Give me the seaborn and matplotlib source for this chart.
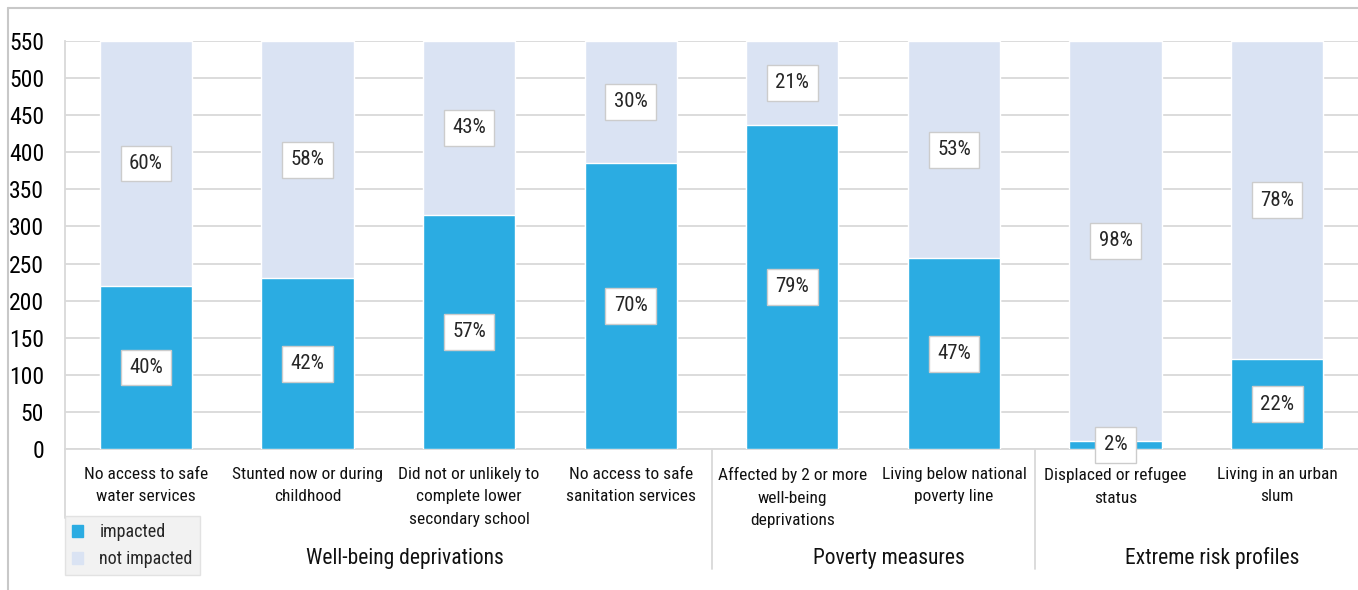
import matplotlib
matplotlib.use('Agg')
import matplotlib.pyplot as plt
from matplotlib.patches import Patch
from matplotlib.lines import Line2D
import matplotlib.transforms as mtransforms
import seaborn as sns
import pandas as pd

# --- data ---
categories = [
    "No access to safe\nwater services",
    "Stunted now or during\nchildhood",
    "Did not or unlikely to\ncomplete lower\nsecondary school",
    "No access to safe\nsanitation services",
    "Affected by 2 or more\nwell-being\ndeprivations",
    "Living below national\npoverty line",
    "Displaced or refugee\nstatus",
    "Living in an urban\nslum",
]
impacted = [220, 230, 316, 386, 437, 257, 11, 121]
total = [550, 550, 550, 550, 550, 550, 550, 550]
pct_impacted = [40, 42, 57, 70, 79, 47, 2, 22]
pct_not_impacted = [60, 58, 43, 30, 21, 53, 98, 78]
groups = ["Well-being deprivations", "Poverty measures", "Extreme risk profiles"]
group_members = [[0, 1, 2, 3], [4, 5], [6, 7]]
y_ticks = [0, 50, 100, 150, 200, 250, 300, 350, 400, 450, 500, 550]

BLUE = '#2BACE2'
LIGHT = '#DAE3F3'
GRID = '#D9D9D9'

sns.set_theme(style='white')
plt.rcParams['font.family'] = ['Roboto Condensed', 'DejaVu Sans Condensed', 'Roboto', 'DejaVu Sans']
plt.rcParams['font.stretch'] = 'condensed'

df = pd.DataFrame({'category': categories, 'impacted': impacted, 'total': total})

fig = plt.figure(figsize=(13.58, 5.90), dpi=100)
ax = fig.add_axes([65 / 1358, 1 - 449 / 590, 1 - 65 / 1358, 408 / 590])

# total bar underneath, impacted bar on top -> stacked look
sns.barplot(data=df, x='category', y='total', color=LIGHT, width=0.57,
            saturation=1, ax=ax, zorder=2)
sns.barplot(data=df, x='category', y='impacted', color=BLUE, width=0.57,
            saturation=1, ax=ax, zorder=3)

ax.set_ylim(0, 550)
ax.set_xlim(-0.5, len(categories) - 0.5)
ax.set_yticks(y_ticks)
ax.yaxis.grid(True, color=GRID, lw=1.3, zorder=0)
ax.set_axisbelow(True)
ax.set_xlabel('')
ax.set_ylabel('')
ax.tick_params(axis='y', length=0, labelsize=17, pad=15, colors='black')
ax.tick_params(axis='x', length=0, labelsize=12.5, pad=13, colors='#111111')
for lab in ax.get_xticklabels():
    lab.set_linespacing(1.62)
for side in ['top', 'right']:
    ax.spines[side].set_visible(False)
ax.spines['left'].set_color(GRID)
ax.spines['bottom'].set_color(GRID)
ax.spines['left'].set_linewidth(1.3)
ax.spines['bottom'].set_linewidth(1.3)

# percentage labels in boxes
box = dict(boxstyle='square,pad=0.4', fc='white', ec='#CCCCCC', lw=1)
for i in range(len(categories)):
    ax.text(i, impacted[i] / 2, f"{pct_impacted[i]}%", ha='center', va='center',
            fontsize=15, bbox=box, zorder=5)
    ax.text(i, impacted[i] + (total[i] - impacted[i]) / 2, f"{pct_not_impacted[i]}%",
            ha='center', va='center', fontsize=15, bbox=box, zorder=5)

# group labels and separators under the axis
trans = mtransforms.blended_transform_factory(ax.transData, ax.transAxes)
for name, members in zip(groups, group_members):
    cx = sum(members) / len(members) + 0.1
    ax.text(cx, -0.268, name, transform=trans, ha='center', va='center',
            fontsize=15.5, color='#111111')
for xpos in [3.5, 5.5]:
    ax.add_line(Line2D([xpos, xpos], [0, -0.295], transform=trans, color=GRID,
                       lw=1.3, clip_on=False))
ax.add_line(Line2D([-0.5, -0.5], [0, -0.17], transform=trans, color=GRID,
                   lw=1.3, clip_on=False))

# legend box bottom-left
handles = [Patch(color=BLUE, label='impacted'), Patch(color=LIGHT, label='not impacted')]
leg = fig.legend(handles=handles, loc='upper left',
                 bbox_to_anchor=(65 / 1358, 1 - 516 / 590), fontsize=13,
                 frameon=True, fancybox=False, handlelength=0.6, handleheight=0.6,
                 handletextpad=0.9, labelspacing=0.5, borderpad=0.4,
                 borderaxespad=0)
leg.get_frame().set_facecolor('#EFEFEF')
leg.get_frame().set_edgecolor('#DDDDDD')
leg.get_frame().set_linewidth(1)

# outer frame lines (left and top)
fig.add_artist(Line2D([8 / 1358, 8 / 1358], [0, 1 - 8 / 590], color='#C8C8C8', lw=1.5))
fig.add_artist(Line2D([8 / 1358, 1], [1 - 8 / 590, 1 - 8 / 590], color='#C8C8C8', lw=1.5))

fig.savefig('out.png', dpi=100)
plt.close(fig)
